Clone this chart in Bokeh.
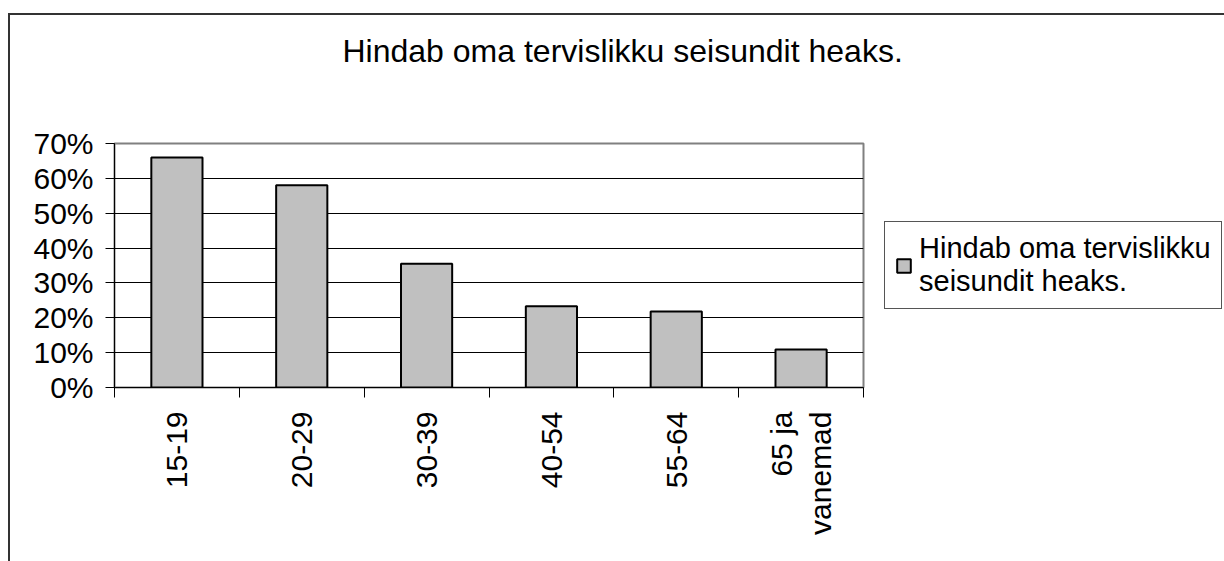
import numpy as np
from bokeh.plotting import figure
from bokeh.models import (Range1d, FixedTicker, NumeralTickFormatter,
                          Legend, LegendItem, Title)
from bokeh.embed import file_html
from bokeh.resources import INLINE

# ---- data ----
chart_title = "Hindab oma tervislikku seisundit heaks."
series_name = "Hindab oma tervislikku\nseisundit heaks."
categories = ["15-19", "20-29", "30-39", "40-54", "55-64", "65 ja\nvanemad"]
values = [0.66, 0.58, 0.355, 0.233, 0.218, 0.109]
y_ticks = [0.0, 0.1, 0.2, 0.3, 0.4, 0.5, 0.6, 0.7]

FONT = "Liberation Sans"
W, H = 1214, 546
n = len(categories)
pos = [i + 0.5 for i in range(n)]

p = figure(width=W, height=H, frame_width=749, frame_height=244,
           output_backend="svg", toolbar_location=None,
           x_range=Range1d(0, n), y_range=Range1d(0, max(y_ticks)),
           min_border_left=104, min_border_right=0,
           min_border_top=128, min_border_bottom=174)
p.styles = {"margin-left": "8px", "margin-top": "13px",
            "border-left": "2px solid #333333",
            "border-top": "2px solid #333333"}
p.background_fill_color = "white"
p.border_fill_color = "white"
p.outline_line_color = "#808080"
p.outline_line_width = 2

r = p.vbar(x=pos, top=values, width=0.41, fill_color="#c0c0c0",
           line_color="black", line_width=2)

# y axis
p.yaxis.ticker = FixedTicker(ticks=y_ticks)
p.yaxis.formatter = NumeralTickFormatter(format="0%")
p.yaxis.major_tick_out = 9
p.yaxis.major_tick_in = 0
p.yaxis.minor_tick_line_color = None
p.yaxis.axis_line_color = "black"
p.yaxis.major_tick_line_color = "black"
p.yaxis.major_label_standoff = 12
p.yaxis.major_label_text_font = FONT
p.yaxis.major_label_text_font_size = "30px"
p.yaxis.major_label_text_color = "black"

# x axis: labels at centers, ticks at boundaries
p.xaxis.ticker = FixedTicker(ticks=pos, minor_ticks=list(range(n + 1)))
p.xaxis.major_label_overrides = {pos[i]: categories[i] for i in range(n)}
p.xaxis.major_tick_line_color = None
p.xaxis.major_tick_out = 10
p.xaxis.major_tick_in = 0
p.xaxis.minor_tick_out = 10
p.xaxis.minor_tick_in = 0
p.xaxis.minor_tick_line_color = "black"
p.xaxis.axis_line_color = "black"
p.xaxis.major_label_orientation = np.pi / 2
p.xaxis.major_label_standoff = 14
p.xaxis.major_label_text_font = FONT
p.xaxis.major_label_text_font_size = "30px"
p.xaxis.major_label_text_color = "black"

p.xgrid.visible = False
p.ygrid.ticker = FixedTicker(ticks=y_ticks)
p.ygrid.grid_line_color = "black"
p.ygrid.grid_line_width = 1

# invisible spacer panel nearest the plot area, then the chart title above it
p.add_layout(Title(text=" ", text_font_size="1px", standoff=70,
                   text_color="white"), "above")
p.add_layout(Title(text=chart_title, align="left", offset=228, standoff=4,
                   text_font=FONT, text_font_size="32px",
                   text_font_style="normal", text_color="black"), "above")

# legend
legend = Legend(items=[LegendItem(label=series_name, renderers=[r])],
                location="center_left", margin=21, padding=10,
                glyph_width=17, glyph_height=17, label_standoff=7,
                label_text_font=FONT, label_text_font_size="29px",
                label_text_color="black",
                border_line_color="#555555", border_line_width=1,
                border_line_alpha=1,
                background_fill_color="white", background_fill_alpha=1)
p.add_layout(legend, "right")

open("out.html", "w").write(file_html(p, INLINE))
